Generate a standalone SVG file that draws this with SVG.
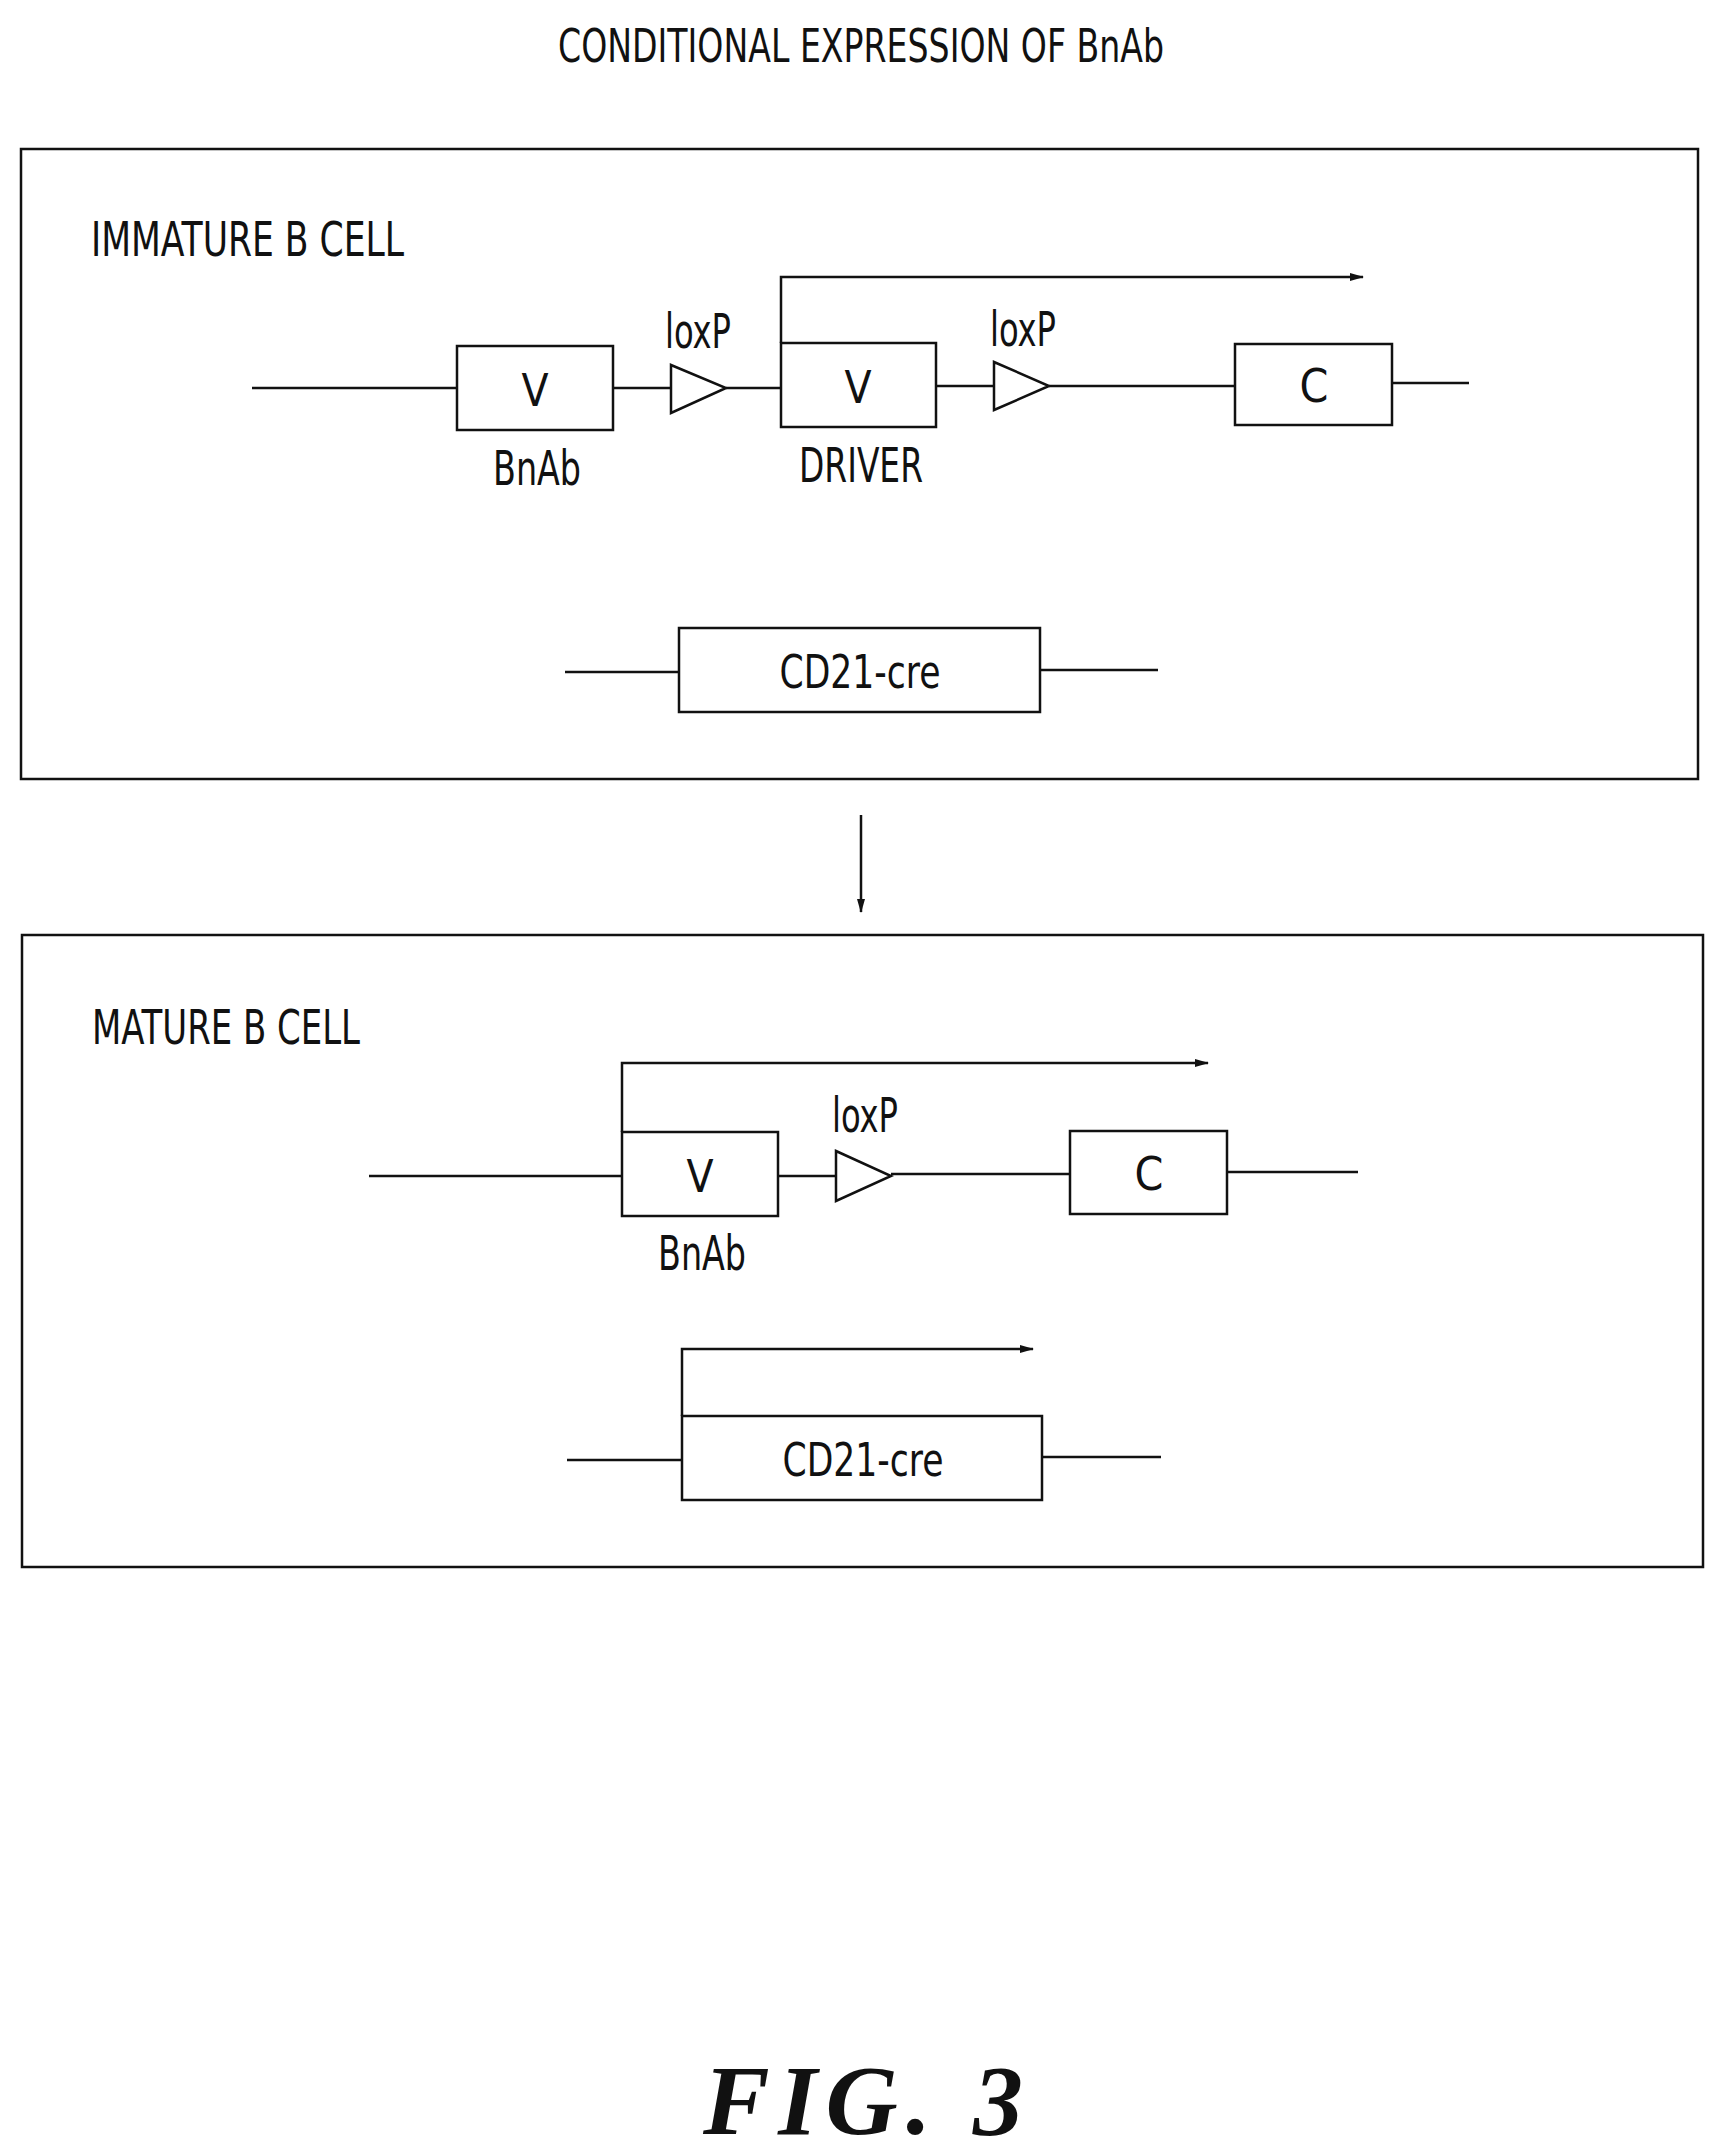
<svg xmlns="http://www.w3.org/2000/svg" width="1721" height="2153" viewBox="0 0 1721 2153">
<style>
.t{font-family:"DejaVu Sans Condensed","Liberation Sans",sans-serif;font-stretch:condensed;fill:#111;text-anchor:middle}
.l{stroke:#111;stroke-width:2.5;fill:none}
.b{stroke:#111;stroke-width:2.5;fill:#fff}
</style>
<defs><marker id="ah" markerWidth="14" markerHeight="10" refX="13" refY="5" orient="auto" markerUnits="userSpaceOnUse"><path d="M0,1 L14,5 L0,9 Z" fill="#111"/></marker></defs>
<rect width="1721" height="2153" fill="#fff"/>
<text class="t" x="861" y="62" font-size="46" textLength="606" lengthAdjust="spacingAndGlyphs">CONDITIONAL EXPRESSION OF BnAb</text>
<g id="immature">
<rect class="l" x="21" y="149" width="1677" height="630"/>
<text class="t" x="91" y="256" font-size="48" style="text-anchor:start" textLength="313" lengthAdjust="spacingAndGlyphs">IMMATURE B CELL</text>
</g>
<g id="connectors">
<line class="l" x1="252" y1="388" x2="457" y2="388"/>
<line class="l" x1="613" y1="388" x2="671" y2="388"/>
<line class="l" x1="726" y1="388" x2="781" y2="388"/>
<line class="l" x1="936" y1="386" x2="994" y2="386"/>
<line class="l" x1="1049" y1="386" x2="1235" y2="386"/>
<line class="l" x1="1392" y1="383" x2="1469" y2="383"/>
<polyline class="l" points="781,343 781,277 1363,277" marker-end="url(#ah)"/>
<line class="l" x1="565" y1="672" x2="679" y2="672"/>
<line class="l" x1="1040" y1="670" x2="1158" y2="670"/>
<line class="l" x1="861" y1="815" x2="861" y2="912" marker-end="url(#ah)"/>
<line class="l" x1="369" y1="1176" x2="622" y2="1176"/>
<line class="l" x1="778" y1="1176" x2="836" y2="1176"/>
<line class="l" x1="891" y1="1174" x2="1070" y2="1174"/>
<line class="l" x1="1227" y1="1172" x2="1358" y2="1172"/>
<polyline class="l" points="622,1132 622,1063 1208,1063" marker-end="url(#ah)"/>
<line class="l" x1="567" y1="1460" x2="682" y2="1460"/>
<line class="l" x1="1042" y1="1457" x2="1161" y2="1457"/>
<polyline class="l" points="682,1416 682,1349 1033,1349" marker-end="url(#ah)"/>
</g>
<g id="v-bnab1"><rect class="b" x="457" y="346" width="156" height="84"/><text class="t" x="535" y="406" font-size="44">V</text><text class="t" x="537" y="485" font-size="48" textLength="88" lengthAdjust="spacingAndGlyphs">BnAb</text></g>
<g id="loxp1"><polygon class="b" points="671,365 726,388 671,413"/><text class="t" x="698" y="348" font-size="48" textLength="66" lengthAdjust="spacingAndGlyphs">loxP</text></g>
<g id="v-driver"><rect class="b" x="781" y="343" width="155" height="84"/><text class="t" x="858" y="403" font-size="44">V</text><text class="t" x="861" y="482" font-size="48" textLength="124" lengthAdjust="spacingAndGlyphs">DRIVER</text></g>
<g id="loxp2"><polygon class="b" points="994,362 1049,386 994,410"/><text class="t" x="1023" y="346" font-size="48" textLength="66" lengthAdjust="spacingAndGlyphs">loxP</text></g>
<g id="c1"><rect class="b" x="1235" y="344" width="157" height="81"/><text class="t" x="1314" y="402" font-size="46">C</text></g>
<g id="cd21-1"><rect class="b" x="679" y="628" width="361" height="84"/><text class="t" x="860" y="688" font-size="46" textLength="161" lengthAdjust="spacingAndGlyphs">CD21-cre</text></g>
<g id="mature">
<rect class="l" x="22" y="935" width="1681" height="632"/>
<text class="t" x="92" y="1044" font-size="48" style="text-anchor:start" textLength="268" lengthAdjust="spacingAndGlyphs">MATURE B CELL</text>
</g>
<g id="v-bnab2"><rect class="b" x="622" y="1132" width="156" height="84"/><text class="t" x="700" y="1192" font-size="44">V</text><text class="t" x="702" y="1270" font-size="48" textLength="88" lengthAdjust="spacingAndGlyphs">BnAb</text></g>
<g id="loxp3"><polygon class="b" points="836,1151 891,1176 836,1201"/><text class="t" x="865" y="1132" font-size="48" textLength="66" lengthAdjust="spacingAndGlyphs">loxP</text></g>
<g id="c2"><rect class="b" x="1070" y="1131" width="157" height="83"/><text class="t" x="1149" y="1190" font-size="46">C</text></g>
<g id="cd21-2"><rect class="b" x="682" y="1416" width="360" height="84"/><text class="t" x="863" y="1476" font-size="46" textLength="161" lengthAdjust="spacingAndGlyphs">CD21-cre</text></g>
<text x="863" y="2134" font-family="'Liberation Serif',serif" font-weight="bold" font-style="italic" font-size="100" text-anchor="middle" fill="#111" textLength="320" lengthAdjust="spacing">FIG.  3</text>
</svg>
